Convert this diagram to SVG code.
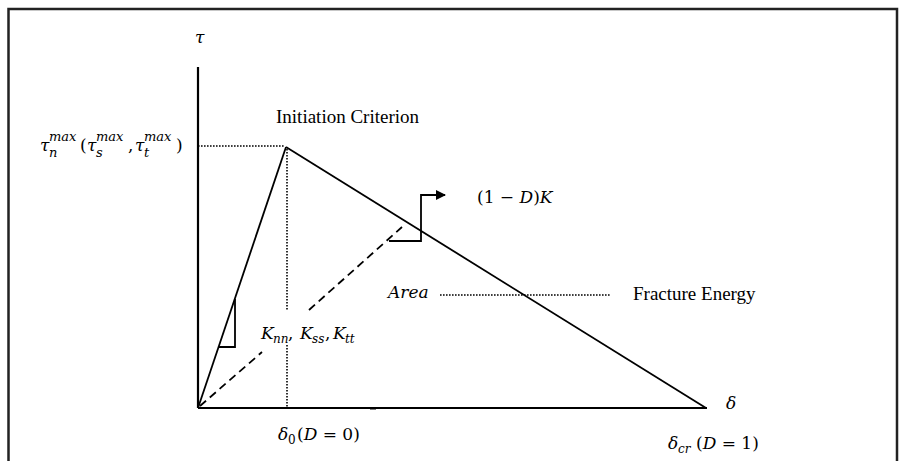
<svg xmlns="http://www.w3.org/2000/svg" width="903" height="461" viewBox="0 0 903 461">
<style>
.ln{stroke:#000;stroke-width:1.8;fill:none}
.ax{stroke:#000;stroke-width:2.2;fill:none}
.dot{stroke:#000;stroke-width:1.6;stroke-dasharray:1.6 1.4;fill:none}
.dash{stroke:#000;stroke-width:1.8;stroke-dasharray:8 5;fill:none}
</style>
<defs>
<marker id="ah" markerWidth="10" markerHeight="10" refX="9" refY="5" orient="auto" markerUnits="userSpaceOnUse">
<path d="M0,0 L10,5 L0,10 Z" fill="#000"/>
</marker>
</defs>
<path d="M8.5,461 V9 H897 V461" fill="none" stroke="#222" stroke-width="2.5"/>
<g id="connectors">
<line class="ax" x1="198" y1="67" x2="198" y2="408"/>
<line class="ax" x1="198" y1="408" x2="707" y2="408"/>
<rect x="370" y="407" width="6" height="2.5" fill="#000"/>
<line class="ln" x1="198" y1="408" x2="286" y2="147"/>
<line class="ln" x1="286" y1="147" x2="706" y2="408"/>
<line class="dot" x1="198" y1="146" x2="285" y2="146"/>
<line class="dot" x1="287" y1="149" x2="287" y2="310"/>
<line class="dot" x1="287" y1="345" x2="287" y2="408"/>
<line class="dash" x1="200" y1="406" x2="262" y2="352"/>
<line class="dash" x1="309" y1="310" x2="402" y2="227"/>
<path class="ln" d="M235,299 V347 H219"/>
<path class="ln" d="M389,241 H421 V195 H445" marker-end="url(#ah)"/>
<line class="dot" x1="440" y1="295" x2="610" y2="295"/>
</g>
<g font-family="'Liberation Serif', 'Times New Roman', serif" font-size="19" fill="#000">
<g id="initiation"><text x="276" y="123">Initiation Criterion</text></g>
<g id="fracture"><text x="633" y="300">Fracture Energy</text></g>
</g>
<g font-family="'DejaVu Serif', 'Liberation Serif', serif" font-size="17" fill="#000">
<g id="tau-axis-label"><text x="195" y="43" font-style="italic">τ</text></g>
<g id="delta-axis-label"><text x="726" y="409" font-style="italic">δ</text></g>
<g id="tau-max">
<text x="40" y="151" font-style="italic">τ</text>
<text x="49" y="141" font-size="13" font-style="italic">max</text>
<text x="49" y="157" font-size="13" font-style="italic">n</text>
<text x="80" y="151">(</text>
<text x="87" y="151" font-style="italic">τ</text>
<text x="96" y="141" font-size="13" font-style="italic">max</text>
<text x="96" y="157" font-size="13" font-style="italic">s</text>
<text x="128" y="151">,</text>
<text x="135" y="151" font-style="italic">τ</text>
<text x="144" y="141" font-size="13" font-style="italic">max</text>
<text x="144" y="157" font-size="13" font-style="italic">t</text>
<text x="176" y="151">)</text>
</g>
<g id="damage-k"><text x="477" y="203">(1 − <tspan font-style="italic">D</tspan>)<tspan font-style="italic">K</tspan></text></g>
<g id="area"><text x="388" y="298" font-style="italic">Area</text></g>
<g id="stiffness">
<text x="261" y="339" font-style="italic">K</text>
<text x="273" y="343" font-size="12" font-style="italic">nn</text>
<text x="288" y="339">,</text>
<text x="300" y="339" font-style="italic">K</text>
<text x="312" y="343" font-size="12" font-style="italic">ss</text>
<text x="325" y="339">,</text>
<text x="333" y="339" font-style="italic">K</text>
<text x="345" y="343" font-size="12" font-style="italic">tt</text>
</g>
<g id="delta0">
<text x="278" y="440" font-style="italic">δ</text>
<text x="288" y="444" font-size="12">0</text>
<text x="297" y="440">(<tspan font-style="italic">D</tspan> = 0)</text>
</g>
<g id="deltacr">
<text x="668" y="449" font-style="italic">δ</text>
<text x="678" y="453" font-size="12" font-style="italic">cr</text>
<text x="696" y="449">(<tspan font-style="italic">D</tspan> = 1)</text>
</g>
</g>
</svg>
